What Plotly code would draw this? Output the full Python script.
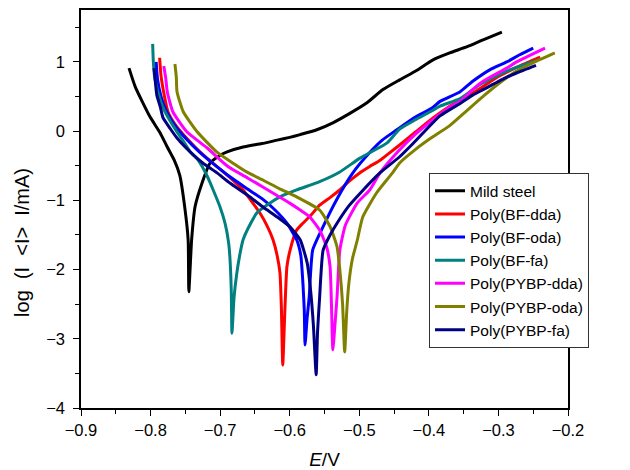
import plotly.graph_objects as go

# Tafel polarisation curves: potential E (V) vs log|I| (mA)

mild_E = [-0.831, -0.822, -0.801, -0.786, -0.776, -0.766, -0.758, -0.751, -0.746, -0.745,
          -0.741, -0.736, -0.726, -0.715, -0.700, -0.690, -0.667, -0.640, -0.618, -0.600,
          -0.585, -0.561, -0.538, -0.513, -0.489, -0.466, -0.442, -0.417, -0.394, -0.370,
          -0.345, -0.322, -0.295]
mild_logI = [0.91, 0.64, 0.21, -0.03, -0.23, -0.42, -0.64, -1.09, -1.57, -2.32,
             -1.57, -1.09, -0.75, -0.47, -0.35, -0.30, -0.23, -0.18, -0.13, -0.09,
             -0.05, 0.02, 0.12, 0.26, 0.41, 0.60, 0.74, 0.88, 1.03, 1.13,
             1.22, 1.32, 1.43]

bf_dda_E = [-0.787, -0.785, -0.780, -0.775, -0.765, -0.753, -0.735, -0.719, -0.700, -0.685,
            -0.667, -0.653, -0.643, -0.632, -0.624, -0.618, -0.614, -0.612, -0.610, -0.607,
            -0.604, -0.599, -0.590, -0.581, -0.570, -0.557, -0.542, -0.528, -0.514, -0.499,
            -0.485, -0.470, -0.456, -0.442, -0.420, -0.394, -0.370, -0.345, -0.320, -0.298,
            -0.270, -0.240]
bf_dda_logI = [1.06, 0.80, 0.50, 0.28, 0.10, -0.05, -0.24, -0.39, -0.55, -0.68,
               -0.85, -1.04, -1.18, -1.38, -1.57, -1.80, -2.05, -2.54, -3.38, -2.60,
               -1.96, -1.70, -1.43, -1.33, -1.22, -1.07, -0.96, -0.85, -0.72, -0.60,
               -0.51, -0.42, -0.31, -0.20, -0.02, 0.19, 0.36, 0.49, 0.66, 0.80,
               0.94, 1.07]

bf_oda_E = [-0.792, -0.790, -0.785, -0.777, -0.765, -0.750, -0.730, -0.710, -0.686, -0.660,
            -0.638, -0.620, -0.604, -0.590, -0.584, -0.581, -0.579, -0.578, -0.575, -0.572,
            -0.567, -0.552, -0.532, -0.509, -0.485, -0.467, -0.446, -0.420, -0.396, -0.384,
            -0.355, -0.337, -0.310, -0.288, -0.270, -0.250]
bf_oda_logI = [1.00, 0.75, 0.50, 0.28, 0.08, -0.10, -0.30, -0.47, -0.66, -0.84,
               -0.99, -1.15, -1.33, -1.57, -1.80, -2.20, -2.60, -3.09, -2.70, -2.40,
               -1.72, -1.38, -0.98, -0.60, -0.31, -0.13, 0.02, 0.20, 0.33, 0.43,
               0.57, 0.72, 0.90, 1.00, 1.10, 1.20]

bf_fa_E = [-0.797, -0.796, -0.794, -0.789, -0.782, -0.772, -0.762, -0.752, -0.743, -0.733,
           -0.720, -0.710, -0.700, -0.693, -0.688, -0.686, -0.684, -0.683, -0.680, -0.676,
           -0.672, -0.667, -0.657, -0.647, -0.630, -0.614, -0.590, -0.557, -0.528, -0.499,
           -0.460, -0.442, -0.420, -0.396, -0.384, -0.355, -0.327, -0.290, -0.245]
bf_fa_logI = [1.26, 1.00, 0.77, 0.55, 0.34, 0.15, -0.01, -0.16, -0.30, -0.40,
              -0.62, -0.85, -1.10, -1.33, -1.60, -1.82, -2.30, -2.92, -2.40, -2.05,
              -1.80, -1.57, -1.35, -1.18, -1.05, -0.95, -0.85, -0.73, -0.59, -0.39,
              -0.17, 0.03, 0.16, 0.29, 0.36, 0.47, 0.67, 0.86, 1.02]

pybp_dda_E = [-0.781, -0.778, -0.776, -0.768, -0.748, -0.719, -0.696, -0.686, -0.660, -0.638,
              -0.620, -0.600, -0.585, -0.571, -0.557, -0.547, -0.542, -0.540, -0.538, -0.535,
              -0.532, -0.528, -0.520, -0.503, -0.485, -0.470, -0.445, -0.420, -0.396, -0.370,
              -0.355, -0.337, -0.322, -0.288, -0.274, -0.233]
pybp_dda_logI = [0.94, 0.75, 0.57, 0.28, -0.01, -0.24, -0.45, -0.53, -0.68, -0.81,
                 -0.92, -1.04, -1.14, -1.24, -1.43, -1.67, -1.96, -2.50, -3.16, -2.80,
                 -2.40, -1.72, -1.36, -1.04, -0.85, -0.60, -0.30, -0.05, 0.15, 0.35,
                 0.43, 0.60, 0.72, 0.91, 1.00, 1.20]

pybp_oda_E = [-0.765, -0.763, -0.762, -0.753, -0.733, -0.705, -0.682, -0.660, -0.638, -0.615,
              -0.590, -0.557, -0.542, -0.532, -0.528, -0.524, -0.521, -0.518, -0.515, -0.510,
              -0.503, -0.495, -0.475, -0.452, -0.442, -0.420, -0.397, -0.370, -0.345, -0.320,
              -0.298, -0.275, -0.250, -0.219]
pybp_oda_logI = [0.97, 0.78, 0.57, 0.28, -0.01, -0.30, -0.46, -0.60, -0.71, -0.83,
                 -0.95, -1.14, -1.38, -1.67, -2.00, -2.50, -3.19, -2.60, -2.20, -1.85,
                 -1.58, -1.24, -0.89, -0.60, -0.46, -0.27, -0.10, 0.08, 0.30, 0.52,
                 0.70, 0.86, 0.99, 1.13]

pybp_fa_E = [-0.795, -0.793, -0.791, -0.786, -0.782, -0.772, -0.762, -0.739, -0.725, -0.705,
             -0.686, -0.660, -0.638, -0.618, -0.600, -0.585, -0.575, -0.570, -0.566, -0.562,
             -0.560, -0.557, -0.552, -0.542, -0.532, -0.515, -0.499, -0.470, -0.442, -0.420,
             -0.384, -0.355, -0.337, -0.322, -0.288, -0.274, -0.246]
pybp_fa_logI = [0.91, 0.70, 0.52, 0.35, 0.19, 0.04, -0.10, -0.34, -0.46, -0.60,
                -0.75, -0.93, -1.10, -1.24, -1.38, -1.57, -1.90, -2.30, -2.80, -3.52,
                -2.90, -2.40, -1.72, -1.50, -1.33, -1.08, -0.90, -0.60, -0.37, -0.15,
                0.22, 0.40, 0.52, 0.60, 0.78, 0.84, 0.95]

series_names = ["Mild steel", "Poly(BF-dda)", "Poly(BF-oda)", "Poly(BF-fa)",
                "Poly(PYBP-dda)", "Poly(PYBP-oda)", "Poly(PYBP-fa)"]
series_E = [mild_E, bf_dda_E, bf_oda_E, bf_fa_E, pybp_dda_E, pybp_oda_E, pybp_fa_E]
series_logI = [mild_logI, bf_dda_logI, bf_oda_logI, bf_fa_logI,
               pybp_dda_logI, pybp_oda_logI, pybp_fa_logI]
series_colors = ["#000000", "#ff0000", "#0000ff", "#008080",
                 "#ff00ff", "#808000", "#000080"]

x_ticks = [-0.9, -0.8, -0.7, -0.6, -0.5, -0.4, -0.3, -0.2]
y_ticks = [-4, -3, -2, -1, 0, 1]

FONT = "Liberation Sans, Arial, sans-serif"
NB = "\u00a0"

fig = go.Figure()
for name, xs, ys, col in zip(series_names, series_E, series_logI, series_colors):
    fig.add_trace(go.Scatter(
        x=xs, y=ys, name=name, mode="lines",
        line=dict(color=col, width=3, shape="spline", smoothing=0.5),
    ))

axis_common = dict(
    showgrid=False, zeroline=False, automargin=False,
    showline=True, linecolor="black", linewidth=1.5, mirror=True,
    ticks="outside", ticklen=6, tickwidth=1.2, tickcolor="black",
    tickfont=dict(family=FONT, size=16.5, color="black"),
)

fig.update_layout(
    width=630, height=470,
    margin=dict(l=81, r=62, t=10, b=62),
    paper_bgcolor="white", plot_bgcolor="white",
    font=dict(family=FONT, size=16, color="black"),
    xaxis=dict(
        range=[-0.9, -0.2], tickvals=x_ticks,
        ticktext=[f"{v:.1f}".replace("-", "\u2212") for v in x_ticks],
        minor=dict(dtick=0.05, tick0=-0.9, ticks="outside", ticklen=4,
                   tickwidth=1.2, tickcolor="black"),
        title=dict(text="<i>E</i>/V", standoff=17,
                   font=dict(family=FONT, size=19, color="black")),
        **axis_common,
    ),
    yaxis=dict(
        range=[-4, 1.75], tickvals=y_ticks,
        ticktext=[str(v).replace("-", "\u2212") for v in y_ticks],
        minor=dict(dtick=0.5, tick0=-4, ticks="outside", ticklen=4,
                   tickwidth=1.2, tickcolor="black"),
        ticklabelstandoff=5,
        **axis_common,
    ),
    legend=dict(
        x=0.7146, y=0.590, xanchor="left", yanchor="top",
        bgcolor="white", bordercolor="#333333", borderwidth=1,
        font=dict(family=FONT, size=15.5, color="black"),
        tracegroupgap=0, itemwidth=30,
    ),
    showlegend=True,
    annotations=[dict(
        text=f"log{NB}{NB}(I{NB}{NB}&lt;I&gt;{NB}{NB}I/mA)", textangle=-90,
        xref="paper", yref="paper", x=-0.121, y=0.415,
        xanchor="center", yanchor="middle", showarrow=False,
        font=dict(family=FONT, size=20, color="black"),
    )],
)

fig.write_html("out.html")
